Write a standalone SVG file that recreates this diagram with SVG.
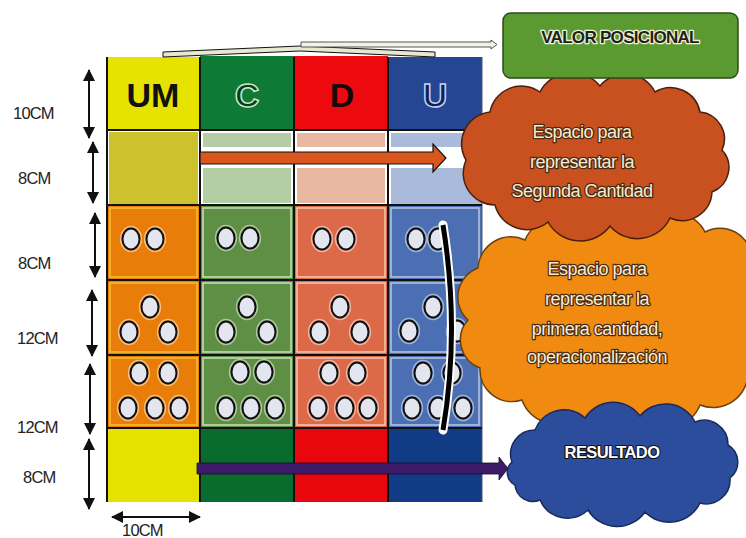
<svg xmlns="http://www.w3.org/2000/svg" width="746" height="538" viewBox="0 0 746 538">
<defs>
<style>
.lbl{font-family:"Liberation Sans",Arial,sans-serif;font-size:16.5px;fill:#222;letter-spacing:-0.8px}
.hdr{font-family:"Liberation Sans",Arial,sans-serif;font-weight:bold;font-size:34px;text-anchor:middle}
.ct{font-family:"Liberation Sans",Arial,sans-serif;font-size:18px;text-anchor:middle;letter-spacing:-0.5px}
.dim{stroke:#111;stroke-width:2;fill:none;marker-start:url(#ah);marker-end:url(#ah)}
.grid{stroke:#111;stroke-width:2}
.cell{stroke-width:1.5}
</style>
<marker id="ah" viewBox="0 0 12 12" refX="11" refY="6" markerWidth="6" markerHeight="6" orient="auto-start-reverse" markerUnits="strokeWidth">
<path d="M0,0 L12,6 L0,12 Z" fill="#111"/>
</marker>
<g id="dot">
<ellipse rx="10.4" ry="12.4" fill="none" stroke="#fff" stroke-opacity="0.5" stroke-width="1.5"/>
<ellipse rx="8.5" ry="10.5" fill="#E4E6EF" stroke="#111" stroke-width="2"/>
</g>
</defs>
<rect width="746" height="538" fill="#fff"/>

<!-- header row -->
<g id="hdr-UM"><rect x="107" y="57" width="93" height="73" fill="#E6E300"/><text class="hdr" x="153" y="107" fill="#111">UM</text></g>
<g id="hdr-C"><rect x="200" y="56" width="94" height="74" fill="#0E7A36"/><text class="hdr" x="247" y="107" fill="#053F1A" stroke="#CFE8C8" stroke-width="1.5">C</text></g>
<g id="hdr-D"><rect x="294" y="56" width="94" height="74" fill="#EC0A0E"/><text class="hdr" x="342" y="107" fill="#1A0808">D</text></g>
<g id="hdr-U"><rect x="388" y="57" width="94" height="73" fill="#244693"/><text class="hdr" x="435" y="107" fill="#101F55" stroke="#C8D4F0" stroke-width="1.5">U</text></g>

<!-- row 2: second quantity -->
<g id="row2">
<rect x="107" y="130" width="93" height="75" fill="#fff"/>
<rect x="109" y="132" width="89" height="72" fill="#CDC12E"/>
<rect x="200" y="130" width="282" height="75" fill="#fff"/>
<rect x="203" y="133" width="88" height="14" fill="#B5CDA5"/>
<rect x="203" y="168" width="88" height="35" fill="#B5CDA5"/>
<rect x="297" y="133" width="88" height="14" fill="#E8B8A0"/>
<rect x="297" y="168" width="88" height="35" fill="#E8B8A0"/>
<rect x="391" y="133" width="89" height="14" fill="#A9BADA"/>
<rect x="391" y="168" width="91" height="36" fill="#A9BADA"/>
</g>

<!-- rows 3-5 cells -->
<g id="row3">
<rect x="107" y="205" width="93" height="75" fill="#E87D0A"/><rect class="cell" x="110" y="208" width="87" height="69" fill="none" stroke="#F2C230"/>
<rect x="200" y="205" width="94" height="75" fill="#5F8F44"/><rect class="cell" x="203" y="208" width="88" height="69" fill="none" stroke="#C8E0B8"/>
<rect x="294" y="205" width="94" height="75" fill="#DC6A48"/><rect class="cell" x="297" y="208" width="88" height="69" fill="none" stroke="#F4C8B0"/>
<rect x="388" y="205" width="94" height="75" fill="#4B6FB2"/><rect class="cell" x="391" y="208" width="88" height="69" fill="none" stroke="#B8C8E8"/>
</g>
<g id="row4">
<rect x="107" y="280" width="93" height="75" fill="#E87D0A"/><rect class="cell" x="110" y="283" width="87" height="69" fill="none" stroke="#F2C230"/>
<rect x="200" y="280" width="94" height="75" fill="#5F8F44"/><rect class="cell" x="203" y="283" width="88" height="69" fill="none" stroke="#C8E0B8"/>
<rect x="294" y="280" width="94" height="75" fill="#DC6A48"/><rect class="cell" x="297" y="283" width="88" height="69" fill="none" stroke="#F4C8B0"/>
<rect x="388" y="280" width="94" height="75" fill="#4B6FB2"/><rect class="cell" x="391" y="283" width="88" height="69" fill="none" stroke="#B8C8E8"/>
</g>
<g id="row5">
<rect x="107" y="355" width="93" height="73" fill="#E87D0A"/><rect class="cell" x="110" y="358" width="87" height="67" fill="none" stroke="#F2C230"/>
<rect x="200" y="355" width="94" height="73" fill="#5F8F44"/><rect class="cell" x="203" y="358" width="88" height="67" fill="none" stroke="#C8E0B8"/>
<rect x="294" y="355" width="94" height="73" fill="#DC6A48"/><rect class="cell" x="297" y="358" width="88" height="67" fill="none" stroke="#F4C8B0"/>
<rect x="388" y="355" width="94" height="73" fill="#4B6FB2"/><rect class="cell" x="391" y="358" width="88" height="67" fill="none" stroke="#B8C8E8"/>
</g>

<!-- row 6: result -->
<g id="row6">
<rect x="107" y="428" width="93" height="74" fill="#E6E200"/>
<rect x="200" y="428" width="94" height="74" fill="#0A6B2E"/>
<rect x="294" y="428" width="94" height="74" fill="#E8070C"/>
<rect x="388" y="428" width="94" height="74" fill="#123B86"/>
</g>

<!-- grid lines -->
<g id="gridlines">
<line class="grid" x1="107" y1="57" x2="107" y2="502" stroke="#444"/>
<line class="grid" x1="200" y1="57" x2="200" y2="502"/>
<line class="grid" x1="294" y1="57" x2="294" y2="502" stroke-width="1.5"/>
<line class="grid" x1="388" y1="57" x2="388" y2="502" stroke-width="1.5"/>
<line x1="482" y1="57" x2="482" y2="502" stroke="#556" stroke-width="1"/>
<line class="grid" x1="107" y1="130" x2="482" y2="130"/>
<line class="grid" x1="107" y1="205" x2="482" y2="205"/>
<line class="grid" x1="107" y1="280" x2="482" y2="280"/>
<line class="grid" x1="107" y1="355" x2="482" y2="355"/>
<line class="grid" x1="107" y1="428" x2="482" y2="428"/>
</g>

<!-- counters -->
<g id="dots">
<use href="#dot" x="131" y="239"/><use href="#dot" x="155" y="239"/>
<use href="#dot" x="226" y="238"/><use href="#dot" x="250" y="238"/>
<use href="#dot" x="322" y="239"/><use href="#dot" x="346" y="239"/>
<use href="#dot" x="416" y="239"/><use href="#dot" x="438" y="239"/>

<use href="#dot" x="150" y="307"/><use href="#dot" x="129" y="332"/><use href="#dot" x="168" y="332"/>
<use href="#dot" x="247" y="307"/><use href="#dot" x="226" y="332"/><use href="#dot" x="267" y="332"/>
<use href="#dot" x="340" y="307"/><use href="#dot" x="319" y="332"/><use href="#dot" x="360" y="332"/>
<use href="#dot" x="433" y="307"/><use href="#dot" x="409" y="331"/><use href="#dot" x="457" y="331"/>

<use href="#dot" x="139" y="373"/><use href="#dot" x="168" y="373"/>
<use href="#dot" x="128" y="408"/><use href="#dot" x="155" y="408"/><use href="#dot" x="179" y="408"/>
<use href="#dot" x="240" y="372"/><use href="#dot" x="264" y="372"/>
<use href="#dot" x="226" y="408"/><use href="#dot" x="251" y="408"/><use href="#dot" x="275" y="408"/>
<use href="#dot" x="329" y="373"/><use href="#dot" x="357" y="373"/>
<use href="#dot" x="318" y="408"/><use href="#dot" x="345" y="408"/><use href="#dot" x="368" y="408"/>
<use href="#dot" x="423" y="373"/><use href="#dot" x="452" y="373"/>
<use href="#dot" x="412" y="408"/><use href="#dot" x="438" y="408"/><use href="#dot" x="463" y="408"/>
</g>

<!-- clouds -->
<g id="cloud-primera">
<path d="M468,320 A31,31 0 0 1 478,268 A33,33 0 0 1 525,240 A37,37 0 0 1 585,228 A36,36 0 0 1 645,226 A36,36 0 0 1 705,232 A32,32 0 0 1 752,258 A37,37 0 0 1 760,320 A32,32 0 0 1 748,372 A35,35 0 0 1 700,405 A37,37 0 0 1 640,418 A37,37 0 0 1 578,415 A35,35 0 0 1 522,400 A32,32 0 0 1 480,368 A30,30 0 0 1 468,320 Z" fill="#F08A10" stroke="#6A4010" stroke-width="1.5"/>
<text class="ct" fill="#F7ECD4" stroke="#4A2A10" stroke-width="2.6" stroke-linejoin="round" paint-order="stroke"><tspan x="597" y="275">Espacio para</tspan><tspan x="597" y="305">representar la</tspan><tspan x="597" y="335">primera cantidad,</tspan><tspan x="597" y="363">operacionalización</tspan></text>
</g>
<g id="cloud-segunda">
<path d="M466,160 A32,32 0 0 1 490,112 A32,32 0 0 1 540,92 A36,36 0 0 1 600,86 A33,33 0 0 1 655,92 A30,30 0 0 1 700,112 A27,27 0 0 1 722,150 A26,26 0 0 1 712,192 A30,30 0 0 1 670,218 A36,36 0 0 1 610,226 A37,37 0 0 1 548,222 A33,33 0 0 1 495,205 A32,32 0 0 1 466,160 Z" fill="#C9501F" stroke="#4A200A" stroke-width="1.5"/>
<text class="ct" fill="#F7ECD4" stroke="#4A2A10" stroke-width="2.6" stroke-linejoin="round" paint-order="stroke"><tspan x="582" y="138">Espacio para</tspan><tspan x="582" y="168">representar la</tspan><tspan x="582" y="197">Segunda Cantidad</tspan></text>
</g>
<g id="cloud-resultado">
<path d="M512,462 A24,24 0 0 1 535,430 A31,31 0 0 1 585,418 A33,33 0 0 1 640,416 A33,33 0 0 1 695,422 A24,24 0 0 1 728,445 A20,20 0 0 1 730,478 A24,24 0 0 1 700,503 A34,34 0 0 1 645,512 A34,34 0 0 1 588,510 A30,30 0 0 1 540,500 A18,18 0 0 1 515,485 A14,14 0 0 1 512,462 Z" fill="#2C4C9C" stroke="#1A2A5A" stroke-width="1.5"/>
<text x="612" y="458" font-family="Liberation Sans,Arial,sans-serif" font-size="16.5" font-weight="bold" text-anchor="middle" fill="#fff" stroke="#111" stroke-width="2.2" stroke-linejoin="round" paint-order="stroke" letter-spacing="-0.6">RESULTADO</text>
</g>
<g id="valor-posicional">
<rect x="503" y="13" width="235" height="65" rx="8" fill="#5A9A30" stroke="#2E4A1A" stroke-width="1.5"/>
<text x="620" y="43" font-family="Liberation Sans,Arial,sans-serif" font-size="17" font-weight="bold" text-anchor="middle" fill="#1E2410" stroke="#F0F0E0" stroke-width="2.6" stroke-linejoin="round" paint-order="stroke" letter-spacing="-0.7">VALOR POSICIONAL</text>
</g>

<!-- connectors -->
<g id="connectors">
<polygon points="163,52 300,46 435,52 435,57 300,51 163,57" fill="#E6E8D2" stroke="#111" stroke-width="1"/>
<polygon points="301,42 491,42 491,40 497,44.5 491,49 491,47 301,47" fill="#F2F2EA" stroke="#555" stroke-width="1"/>
<polygon points="200,152 433,152 433,144 446,158 433,172 433,164 200,164" fill="#D9561F" stroke="#111" stroke-width="1.2"/>
<polygon points="197,463 499,463 499,457 508,468.5 499,480 499,474 197,474" fill="#3C1A68" stroke="#1A0A30" stroke-width="0.8"/>
<path d="M443,225 Q460,330 443,430" fill="none" stroke="#fff" stroke-width="9" stroke-linecap="round"/>
<path d="M443,225 Q460,330 443,430" fill="none" stroke="#000" stroke-width="5"/>
<line class="dim" x1="89" y1="70" x2="89" y2="138"/>
<line class="dim" x1="93" y1="142" x2="93" y2="203"/>
<line class="dim" x1="95" y1="213" x2="95" y2="277"/>
<line class="dim" x1="92" y1="290" x2="92" y2="356"/>
<line class="dim" x1="90" y1="364" x2="90" y2="434"/>
<line class="dim" x1="89" y1="439" x2="89" y2="509"/>
<line class="dim" x1="112" y1="517" x2="200" y2="517"/>
</g>

<!-- dimension labels -->
<g id="labels">
<text class="lbl" x="13" y="119">10CM</text>
<text class="lbl" x="18" y="184">8CM</text>
<text class="lbl" x="18" y="269">8CM</text>
<text class="lbl" x="17" y="344">12CM</text>
<text class="lbl" x="17" y="433">12CM</text>
<text class="lbl" x="23" y="483">8CM</text>
<text class="lbl" x="122" y="536">10CM</text>
</g>
</svg>
